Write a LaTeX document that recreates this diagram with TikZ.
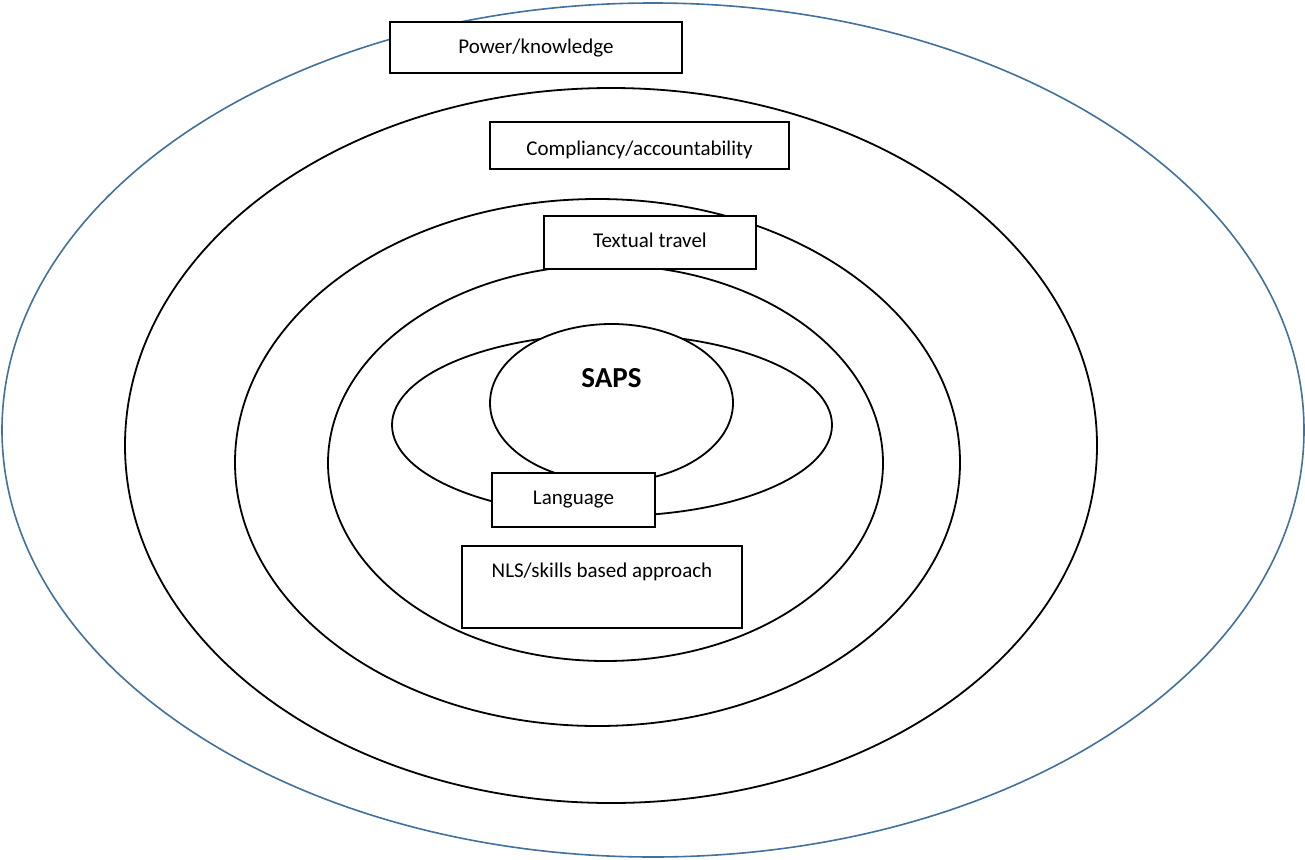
\documentclass[tikz,border=0pt]{standalone}
\usepackage{fontspec}
\setmainfont{Carlito}
\usetikzlibrary{shapes.geometric}
\definecolor{ringblue}{RGB}{65,113,156}
\tikzset{
  ring/.style={ellipse, draw=black, fill=white, line width=1.8pt, inner sep=0pt},
  labelbox/.style={rectangle, draw=black, fill=white, line width=1.8pt, inner sep=0pt,
    font=\fontsize{21}{25}\selectfont},
}
\begin{document}
\begin{tikzpicture}[x=1pt,y=-1pt]
\useasboundingbox (0,0) rectangle (1305,859);
% rings, outer to inner
\node[ring, draw=ringblue, line width=1.6pt, minimum width=1302pt, minimum height=854pt] (power) at (653,430) {};
\node[ring, minimum width=972pt, minimum height=715pt] (compliance) at (611,445.5) {};
\node[ring, minimum width=725pt, minimum height=527pt] (textual) at (597.5,462.5) {};
\node[ring, minimum width=555pt, minimum height=396pt] (nls) at (605.5,463) {};
\node[ring, minimum width=440pt, minimum height=182pt] (language) at (612,425) {};
\node[ring, minimum width=243pt, minimum height=158pt, text height=20pt, text depth=52pt,
      font=\fontsize{29}{34}\selectfont\bfseries] (saps) at (611.5,403) {SAPS};
% label boxes
\node[labelbox, minimum width=292pt, minimum height=51pt, text height=16pt, text depth=3pt]
  (bpower) at (536,47.5) {Power/knowledge};
\node[labelbox, minimum width=299pt, minimum height=47pt, text height=19pt, text depth=0pt]
  (bcomp) at (639.5,145.5) {Compliancy/accountability};
\node[labelbox, minimum width=212pt, minimum height=53pt, text height=14pt, text depth=5pt]
  (btext) at (650,242.5) {Textual travel};
\node[labelbox, minimum width=163pt, minimum height=54pt, text height=13pt, text depth=5pt]
  (blang) at (573.5,500) {Language};
\node[labelbox, minimum width=280pt, minimum height=82pt, text height=15pt, text depth=35pt]
  (bnls) at (602,587) {NLS/skills based approach};
\end{tikzpicture}
\end{document}
